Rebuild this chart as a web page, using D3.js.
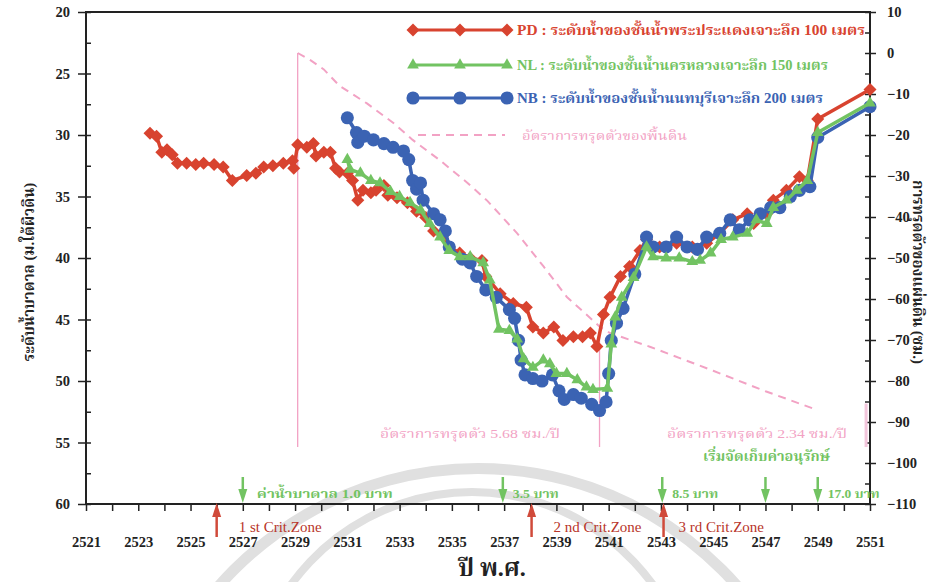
<!DOCTYPE html>
<html>
<head>
<meta charset="utf-8">
<script src="https://cdn.jsdelivr.net/npm/d3@7"></script>
<style>
  body { margin: 0; background: #fff; }
  svg { display: block; }
  .tick text { font-family: "Liberation Serif", serif; font-weight: bold; font-size: 14.5px; fill: #222; }
  .thai { font-family: "Liberation Serif", "Noto Serif Thai", "Noto Sans Thai", "Tlwg Typo", "Garuda", "Loma", serif; }
</style>
</head>
<body>
<div id="chart"></div>
<script>
// ---- data (year B.E., level m below ground / subsidence cm) ----
var pdPoints = [
  [2523.45,29.85],[2523.7,30.1],[2523.9,31.4],[2524.1,31.2],[2524.3,31.6],[2524.5,32.3],
  [2524.85,32.3],[2525.2,32.4],[2525.5,32.3],[2525.9,32.4],[2526.25,32.6],[2526.6,33.7],
  [2527.15,33.3],[2527.5,33.1],[2527.8,32.6],[2528.15,32.5],[2528.55,32.3],[2528.9,32.1],
  [2528.95,32.7],[2529.1,30.8],[2529.45,31.0],[2529.7,30.7],[2529.8,31.7],[2530.1,31.4],
  [2530.35,31.4],[2530.55,32.7],[2530.7,33.0],[2531.0,33.1],[2531.2,33.7],[2531.4,35.3],
  [2531.6,34.5],[2531.9,34.7],[2532.1,34.5],[2532.4,34.1],[2532.55,34.9],[2532.9,35.1],
  [2533.3,35.5],[2533.65,36.2],[2534.0,36.7],[2534.3,37.8],[2534.65,38.2],[2534.9,39.1],
  [2535.3,39.6],[2535.7,40.0],[2536.15,40.2],[2536.3,41.5],[2536.85,42.9],[2537.35,43.7],
  [2537.85,44.0],[2538.1,45.6],[2538.5,46.1],[2538.9,45.6],[2539.25,46.7],[2539.65,46.4],
  [2540.0,46.4],[2540.3,46.1],[2540.55,47.2],[2540.8,44.6],[2541.05,43.2],[2541.45,41.5],
  [2541.8,40.7],[2542.2,39.4],[2542.45,38.5],[2542.95,39.1],[2543.6,38.8],[2544.2,39.1],
  [2544.75,38.8],[2545.25,38.0],[2545.75,36.9],[2546.3,36.4],[2546.55,37.2],[2547.05,36.4],
  [2547.3,35.3],[2547.8,34.5],[2548.3,33.4],[2548.6,33.7],[2549.0,28.7],[2551.0,26.3]
];
var nlPoints = [
  [2531.0,32.0],[2531.1,32.8],[2531.5,33.1],[2531.9,33.7],[2532.25,33.9],[2532.65,34.6],
  [2533.0,35.0],[2533.4,35.5],[2533.8,36.1],[2534.15,37.2],[2534.55,38.3],[2534.9,39.4],
  [2535.3,39.9],[2535.7,39.9],[2536.2,40.4],[2536.45,41.8],[2536.8,45.8],[2537.2,45.9],
  [2537.5,46.6],[2537.75,48.2],[2538.1,48.9],[2538.5,48.3],[2538.75,48.6],[2539.0,49.4],
  [2539.4,49.4],[2539.8,49.9],[2540.15,50.5],[2540.4,50.7],[2540.95,50.6],[2541.1,47.0],
  [2541.25,44.8],[2541.5,43.2],[2541.95,41.6],[2542.45,39.1],[2542.7,39.9],[2543.2,40.0],
  [2543.7,40.0],[2544.2,40.3],[2544.5,40.2],[2544.9,39.6],[2545.3,38.5],[2545.75,38.3],
  [2546.3,38.0],[2546.65,36.9],[2547.05,37.2],[2547.3,35.9],[2547.8,35.3],[2548.2,34.5],
  [2548.6,33.7],[2549.0,29.8],[2551.0,27.4]
];
var nbPoints = [
  [2531.0,28.6],[2531.35,29.8],[2531.4,30.6],[2531.65,30.1],[2532.0,30.4],[2532.4,30.7],
  [2532.75,31.0],[2533.15,31.3],[2533.35,32.0],[2533.5,33.7],[2533.65,34.4],[2533.8,33.9],
  [2533.9,35.3],[2534.3,36.4],[2534.55,36.9],[2534.75,37.8],[2534.9,39.1],[2535.4,40.1],
  [2535.7,40.4],[2535.95,41.5],[2536.3,42.6],[2536.7,43.2],[2537.2,44.2],[2537.4,44.9],
  [2537.55,46.7],[2537.65,48.3],[2537.8,49.5],[2538.1,49.8],[2538.45,50.0],[2538.85,49.5],
  [2539.1,50.8],[2539.3,51.5],[2539.65,51.1],[2539.95,51.4],[2540.35,51.9],[2540.65,52.4],
  [2540.9,51.7],[2541.0,49.4],[2541.1,46.7],[2541.3,45.3],[2541.55,44.1],[2542.0,41.3],
  [2542.45,38.3],[2542.7,39.1],[2543.2,39.1],[2543.6,38.3],[2544.0,39.1],[2544.4,39.3],
  [2544.75,38.3],[2545.25,38.0],[2545.65,36.9],[2546.0,37.7],[2546.4,36.9],[2546.8,36.4],
  [2547.2,35.9],[2547.55,35.9],[2547.95,35.0],[2548.3,34.5],[2548.7,34.2],[2549.0,30.2],
  [2551.0,27.7]
];
// land subsidence (cm, right axis)
var subPoints = [
  [2529.1,0],[2529.6,-1.8],[2530.1,-4],[2530.7,-8],[2531.75,-12.3],[2532.75,-17],
  [2533.5,-21.2],[2534.55,-26.2],[2535.6,-31.7],[2536.35,-36],[2537.5,-44],[2538.5,-52],
  [2539.4,-59.5],[2540.67,-66.8],[2541.05,-68.3],[2542.6,-71.7],[2545,-77.5],[2547,-82.5],
  [2549,-87.1]
];
var periodYears = [2529.1, 2540.65];       // vertical period markers
var periodTops = [0, -66.6];
var periodBottom = -96.1;
var feeYears = [2527.0, 2536.95, 2543.05, 2547.0, 2549.0];
var feeLabels = ["ค่าน้ำบาดาล 1.0 บาท", "3.5 บาท", "8.5 บาท", "", "17.0 บาท"];
var critYears = [2526.0, 2538.05, 2543.1];
var critLabels = ["1 st Crit.Zone", "2 nd Crit.Zone", "3 rd Crit.Zone"];
var rateLabels = ["อัตราการทรุดตัว 5.68 ซม./ปี", "อัตราการทรุดตัว 2.34 ซม./ปี"];
var leftTicks = d3.range(20, 61, 5);
var rightTicks = d3.range(10, -111, -10);
var seriesNames = [
  "PD : ระดับน้ำของชั้นน้ำพระประแดงเจาะลึก 100 เมตร",
  "NL : ระดับน้ำของชั้นน้ำนครหลวงเจาะลึก 150 เมตร",
  "NB : ระดับน้ำของชั้นน้ำนนทบุรีเจาะลึก 200 เมตร"
];
var subName = "อัตราการทรุดตัวของพื้นดิน";

var red = "#d8432f", green = "#72c362", blue = "#3b63b3", pink = "#f2a2c4";

var svg = d3.select("#chart").append("svg")
    .attr("width", 939)
    .attr("height", 582);

var x = d3.scaleLinear().domain([2521, 2551]).range([86, 870]);
var yL = d3.scaleLinear().domain([20, 60]).range([12, 504]);
var yR = d3.scaleLinear().domain([10, -110]).range([12, 504]);

// faint watermark arcs from the scan
var wm = svg.append("g").attr("fill", "#e0e0e0");
wm.append("path").attr("transform", "translate(478,813)")
    .attr("d", d3.arc()({innerRadius: 339, outerRadius: 350, startAngle: -1.05, endAngle: 1.05}));
wm.append("path").attr("transform", "translate(472,715)")
    .attr("d", d3.arc()({innerRadius: 219, outerRadius: 227, startAngle: -1.3, endAngle: 1.3}));

// axes
svg.append("g").attr("transform", "translate(86,0)")
    .call(d3.axisLeft(yL).tickValues(leftTicks).tickSize(8).tickPadding(8))
    .call(function(g){ g.select(".domain").remove(); });
svg.append("g").attr("transform", "translate(86,0)")
    .call(d3.axisLeft(yL).tickValues(d3.range(20, 60.1, 2.5)).tickSize(-5).tickFormat(""))
    .call(function(g){ g.select(".domain").remove(); });
svg.append("g").attr("transform", "translate(870,0)")
    .call(d3.axisRight(yR).tickValues(rightTicks).tickSize(6).tickPadding(11))
    .call(function(g){ g.select(".domain").remove(); });
svg.append("g").attr("transform", "translate(870,0)")
    .call(d3.axisRight(yR).tickValues(d3.range(10, -110.1, -5)).tickSize(-5).tickFormat(""))
    .call(function(g){ g.select(".domain").remove(); });
svg.append("g").attr("transform", "translate(0,504)")
    .call(d3.axisBottom(x).tickValues(d3.range(2521, 2552, 1)).tickSize(7).tickPadding(26)
      .tickFormat(function(d){ return d % 2 === 1 ? d : ""; }))
    .call(function(g){ g.select(".domain").remove(); });
svg.selectAll(".tick line").attr("stroke", "#222").attr("stroke-width", 1.5);

svg.append("rect")
    .attr("x", 86).attr("y", 12).attr("width", 784).attr("height", 492)
    .attr("fill", "none").attr("stroke", "#222").attr("stroke-width", 2);

// axis titles
svg.append("text").attr("class", "thai")
    .attr("transform", "translate(34,272) rotate(-90)")
    .attr("text-anchor", "middle").attr("font-size", 15).attr("font-weight", "bold").attr("fill", "#222")
    .text("ระดับน้ำบาดาล (ม.ใต้ผิวดิน)");
svg.append("text").attr("class", "thai")
    .attr("transform", "translate(913,272) rotate(90)")
    .attr("text-anchor", "middle").attr("font-size", 15).attr("font-weight", "bold").attr("fill", "#222")
    .text("การทรุดตัวของแผ่นดิน (ซม.)");
svg.append("text").attr("class", "thai")
    .attr("x", 492).attr("y", 576)
    .attr("text-anchor", "middle").attr("font-size", 24).attr("font-weight", "bold").attr("fill", "#222")
    .text("ปี พ.ศ.");

// subsidence curve and period markers
svg.append("path")
    .datum(subPoints)
    .attr("fill", "none").attr("stroke", pink).attr("stroke-width", 2)
    .attr("stroke-dasharray", "8,6")
    .attr("d", d3.line().x(function(d){ return x(d[0]); }).y(function(d){ return yR(d[1]); }));
svg.selectAll(".period").data(periodYears).enter().append("line")
    .attr("class", "period")
    .attr("x1", function(d){ return x(d); }).attr("x2", function(d){ return x(d); })
    .attr("y1", function(d, i){ return yR(periodTops[i]); }).attr("y2", yR(periodBottom))
    .attr("stroke", pink).attr("stroke-width", 1.3);
svg.append("line")
    .attr("x1", x(2550.85)).attr("x2", x(2550.85))
    .attr("y1", yR(-85.5)).attr("y2", yR(periodBottom))
    .attr("stroke", "#f3c6dc").attr("stroke-width", 3);

svg.selectAll(".rate").data(rateLabels).enter().append("text")
    .attr("class", "thai rate")
    .attr("x", function(d, i){ return i === 0 ? 380 : 667; }).attr("y", 438)
    .attr("font-size", 13).attr("fill", pink)
    .attr("textLength", 180).attr("lengthAdjust", "spacingAndGlyphs")
    .text(function(d){ return d; });
svg.append("text").attr("class", "thai")
    .attr("x", 703).attr("y", 461)
    .attr("font-size", 14).attr("font-weight", "bold").attr("fill", green)
    .attr("textLength", 127).attr("lengthAdjust", "spacingAndGlyphs")
    .text("เริ่มจัดเก็บค่าอนุรักษ์");

// series
var line = function(scale) {
  return d3.line().x(function(d){ return x(d[0]); }).y(function(d){ return scale(d[1]); });
};
var diamond = "M0,-6.5L6.5,0L0,6.5L-6.5,0Z";
var tri = d3.symbol().type(d3.symbolTriangle).size(60)();
var circ = d3.symbol().type(d3.symbolCircle).size(135)();

function drawSeries(pts, color, shape) {
  var g = svg.append("g");
  g.append("path").datum(pts)
      .attr("fill", "none").attr("stroke", color).attr("stroke-width", 3.5)
      .attr("stroke-linejoin", "round")
      .attr("d", line(yL));
  g.selectAll("path.m").data(pts).enter().append("path")
      .attr("class", "m")
      .attr("transform", function(d){ return "translate(" + x(d[0]) + "," + yL(d[1]) + ")"; })
      .attr("d", shape).attr("fill", color);
}
drawSeries(pdPoints, red, diamond);
drawSeries(nbPoints, blue, circ);
drawSeries(nlPoints, green, tri);

// legend
var legendY = [30, 65, 98];
var legendColors = [red, green, blue];
var legendShapes = [diamond, tri, circ];
var legendWidths = [348, 311, 306];
legendY.forEach(function(ly, i) {
  svg.append("line").attr("x1", 413).attr("x2", 507).attr("y1", ly).attr("y2", ly)
      .attr("stroke", legendColors[i]).attr("stroke-width", 3);
  [413, 460, 507].forEach(function(mx) {
    svg.append("path").attr("transform", "translate(" + mx + "," + ly + ")")
        .attr("d", legendShapes[i]).attr("fill", legendColors[i]);
  });
  svg.append("text").attr("class", "thai")
      .attr("x", 517).attr("y", ly + 5)
      .attr("font-size", 14).attr("font-weight", "bold").attr("fill", legendColors[i])
      .attr("textLength", legendWidths[i]).attr("lengthAdjust", "spacingAndGlyphs")
      .text(seriesNames[i]);
});
svg.append("line").attr("x1", 418).attr("x2", 505).attr("y1", 135).attr("y2", 135)
    .attr("stroke", pink).attr("stroke-width", 2).attr("stroke-dasharray", "8,6");
svg.append("text").attr("class", "thai")
    .attr("x", 522).attr("y", 140)
    .attr("font-size", 13).attr("fill", pink)
    .attr("textLength", 165).attr("lengthAdjust", "spacingAndGlyphs")
    .text(subName);

// groundwater fee arrows (green, pointing down to axis)
var feeWidths = [136, 46, 46, 0, 52];
var fee = svg.selectAll(".fee").data(feeYears).enter().append("g").attr("class", "fee")
    .attr("transform", function(d){ return "translate(" + x(d) + ",0)"; });
fee.append("line").attr("y1", 477).attr("y2", 496)
    .attr("stroke", green).attr("stroke-width", 2.5);
fee.append("path").attr("d", "M-4.5,489L4.5,489L0,503Z").attr("fill", green);
fee.filter(function(d, i){ return feeLabels[i] !== ""; }).append("text").attr("class", "thai")
    .attr("x", function(d){ return d === feeYears[0] ? 14 : 10; }).attr("y", 498)
    .attr("font-size", 13).attr("font-weight", "bold").attr("fill", green)
    .attr("textLength", function(d){ return feeWidths[feeYears.indexOf(d)]; })
    .attr("lengthAdjust", "spacingAndGlyphs")
    .text(function(d){ return feeLabels[feeYears.indexOf(d)]; });

// critical zone arrows (red, pointing up to axis)
var crit = svg.selectAll(".crit").data(critYears).enter().append("g").attr("class", "crit")
    .attr("transform", function(d){ return "translate(" + x(d) + ",0)"; });
crit.append("line").attr("y1", 537).attr("y2", 512)
    .attr("stroke", "#d04a3a").attr("stroke-width", 2.5);
crit.append("path").attr("d", "M-4.5,517L4.5,517L0,503Z").attr("fill", "#d04a3a");
crit.append("text")
    .attr("x", function(d, i){ return i === 2 ? 15 : 22; }).attr("y", 532)
    .attr("font-family", "Liberation Serif, serif").attr("font-size", 15).attr("fill", "#b8352a")
    .text(function(d, i){ return critLabels[i]; });
</script>
</body>
</html>
